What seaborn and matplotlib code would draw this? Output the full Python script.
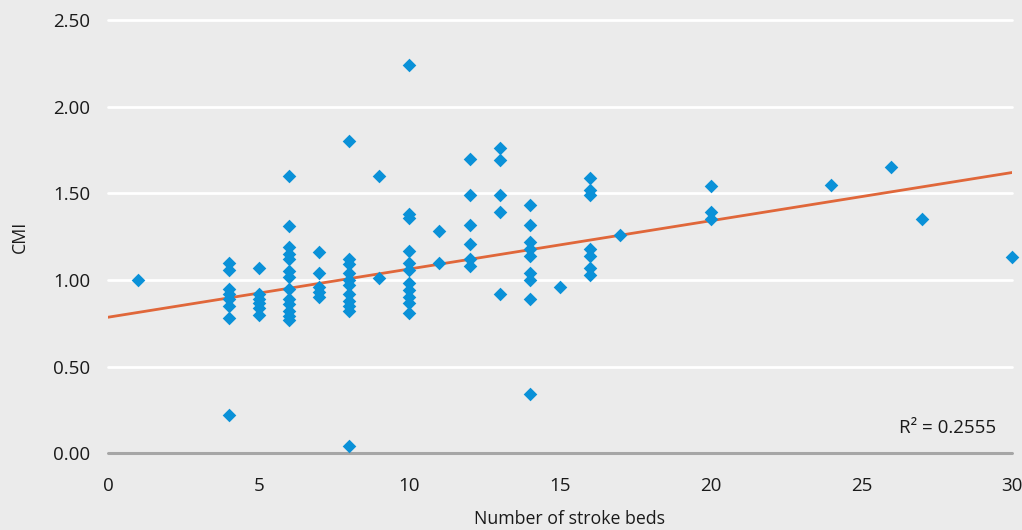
import matplotlib
matplotlib.use("Agg")
import matplotlib.pyplot as plt
import seaborn as sns
import pandas as pd

# ---- data ----
stroke_beds = (
    [1]
    + [4] * 8
    + [5] * 6
    + [6] * 13
    + [7] * 5
    + [8] * 11
    + [9] * 2
    + [10] * 11
    + [11] * 2
    + [12] * 6
    + [13] * 5
    + [14] * 9
    + [15]
    + [16] * 7
    + [17]
    + [20] * 3
    + [24, 26, 27, 30]
)
cmi = (
    [1.00]
    + [1.10, 1.06, 0.95, 0.92, 0.89, 0.85, 0.78, 0.22]
    + [1.07, 0.92, 0.89, 0.87, 0.84, 0.80]
    + [1.60, 1.31, 1.19, 1.15, 1.12, 1.05, 1.02, 0.95, 0.89, 0.86, 0.82, 0.79, 0.77]
    + [1.16, 1.04, 0.96, 0.93, 0.90]
    + [1.80, 1.12, 1.09, 1.04, 1.00, 0.97, 0.92, 0.88, 0.85, 0.82, 0.04]
    + [1.60, 1.01]
    + [2.24, 1.38, 1.36, 1.17, 1.10, 1.06, 0.98, 0.94, 0.90, 0.87, 0.81]
    + [1.28, 1.10]
    + [1.70, 1.49, 1.32, 1.21, 1.12, 1.08]
    + [1.76, 1.69, 1.49, 1.39, 0.92]
    + [1.43, 1.32, 1.22, 1.18, 1.14, 1.04, 1.00, 0.89, 0.34]
    + [0.96]
    + [1.59, 1.52, 1.49, 1.18, 1.14, 1.07, 1.03]
    + [1.26]
    + [1.54, 1.39, 1.35]
    + [1.55, 1.65, 1.35, 1.13]
)
# linear trendline as drawn in the reference (read at its two ends)
trend_x = [0, 30]
trend_y = [0.785, 1.62]

x_ticks = [0, 5, 10, 15, 20, 25, 30]
y_ticks = [0.0, 0.5, 1.0, 1.5, 2.0, 2.5]
y_tick_labels = ["0.00", "0.50", "1.00", "1.50", "2.00", "2.50"]
r2_label = "R\u00b2 = 0.2555"
x_title = "Number of stroke beds"
y_title = "CMI"

df = pd.DataFrame({"beds": stroke_beds, "cmi": cmi})
trend = pd.DataFrame({"beds": trend_x, "cmi": trend_y})

BG = "#ebebeb"
BLUE = "#0a91d8"
ORANGE = "#e0673a"
TEXT = "#1a1a1a"

sns.set_theme(style="white")
plt.rcParams["font.family"] = ["Open Sans", "DejaVu Sans"]

X0, X1 = 108, 1012
fig = plt.figure(figsize=(10.22, 5.30), dpi=100, facecolor=BG)
ax = fig.add_axes([X0 / 1022, (530 - 453.3) / 530, (X1 - X0) / 1022, (453.3 - 20) / 530])
ax.set_facecolor(BG)
ax.set_xlim(0, 30)
ax.set_ylim(0, 2.5)

ax.set_yticks(y_ticks)
ax.set_yticklabels(y_tick_labels)
ax.set_xticks(x_ticks)
ax.yaxis.grid(True, color="white", linewidth=2.0)
ax.xaxis.grid(False)
ax.set_axisbelow(True)
for gl in ax.get_ygridlines():
    gl.set_clip_on(False)

sns.lineplot(data=trend, x="beds", y="cmi", ax=ax, color=ORANGE,
             linewidth=2.0, zorder=2)
sns.scatterplot(
    data=df, x="beds", y="cmi", ax=ax, marker="D", s=48, color=BLUE,
    edgecolor=BLUE, linewidth=0, zorder=3, clip_on=False,
)

# zero axis line
ax.axhline(0, color="#a6a6a6", linewidth=2.2, zorder=1, clip_on=False)

for side in ["top", "right", "left", "bottom"]:
    ax.spines[side].set_visible(False)

ax.tick_params(axis="both", length=0, labelsize=13.5, colors=TEXT)
ax.tick_params(axis="y", pad=13)
ax.tick_params(axis="x", pad=17)

ax.set_xlabel(x_title, fontsize=12.8, color=TEXT)
ax.set_ylabel(y_title, fontsize=12.8, color=TEXT)
W = X1 - X0
ax.xaxis.set_label_coords((570 - X0) / W, (453.3 - 510) / 433.3)
ax.yaxis.set_label_coords((29 - X0) / W, 0.5)

ax.text(0.875, 0.058, r2_label, transform=ax.transAxes, fontsize=13.5,
        color=TEXT, ha="left", va="center")

fig.savefig("out.png", dpi=100, facecolor=BG)
